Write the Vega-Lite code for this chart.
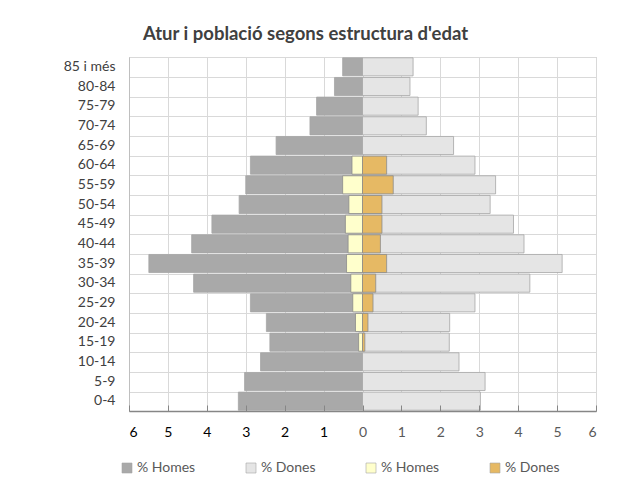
{
  "$schema": "https://vega.github.io/schema/vega-lite/v6.json",
  "width": 467,
  "height": 354,
  "autosize": {"type": "none"},
  "padding": {"left": 129, "top": 57, "right": 28, "bottom": 85},
  "background": "white",
  "config": {
    "font": "Lato",
    "view": {"stroke": "#bfbfbf", "strokeWidth": 1},
    "axis": {"labelFont": "Lato"}
  },
  "title": {
    "text": "Atur i població segons estructura d'edat",
    "fontSize": 18.5,
    "fontWeight": "bold",
    "color": "#404040",
    "anchor": "middle",
    "dx": -57,
    "offset": 14
  },
  "data": {
    "values": [
      {"edat": "85 i més", "tipus": "Població", "sexe": "Homes", "valor": 0.51},
      {"edat": "80-84", "tipus": "Població", "sexe": "Homes", "valor": 0.72},
      {"edat": "75-79", "tipus": "Població", "sexe": "Homes", "valor": 1.18},
      {"edat": "70-74", "tipus": "Població", "sexe": "Homes", "valor": 1.35},
      {"edat": "65-69", "tipus": "Població", "sexe": "Homes", "valor": 2.22},
      {"edat": "60-64", "tipus": "Població", "sexe": "Homes", "valor": 2.88},
      {"edat": "55-59", "tipus": "Població", "sexe": "Homes", "valor": 3.0},
      {"edat": "50-54", "tipus": "Població", "sexe": "Homes", "valor": 3.17},
      {"edat": "45-49", "tipus": "Població", "sexe": "Homes", "valor": 3.87},
      {"edat": "40-44", "tipus": "Població", "sexe": "Homes", "valor": 4.39},
      {"edat": "35-39", "tipus": "Població", "sexe": "Homes", "valor": 5.49},
      {"edat": "30-34", "tipus": "Població", "sexe": "Homes", "valor": 4.34},
      {"edat": "25-29", "tipus": "Població", "sexe": "Homes", "valor": 2.88},
      {"edat": "20-24", "tipus": "Població", "sexe": "Homes", "valor": 2.47},
      {"edat": "15-19", "tipus": "Població", "sexe": "Homes", "valor": 2.38},
      {"edat": "10-14", "tipus": "Població", "sexe": "Homes", "valor": 2.62},
      {"edat": "5-9", "tipus": "Població", "sexe": "Homes", "valor": 3.03},
      {"edat": "0-4", "tipus": "Població", "sexe": "Homes", "valor": 3.19},
      {"edat": "85 i més", "tipus": "Població", "sexe": "Dones", "valor": 1.30},
      {"edat": "80-84", "tipus": "Població", "sexe": "Dones", "valor": 1.22},
      {"edat": "75-79", "tipus": "Població", "sexe": "Dones", "valor": 1.43},
      {"edat": "70-74", "tipus": "Població", "sexe": "Dones", "valor": 1.64},
      {"edat": "65-69", "tipus": "Població", "sexe": "Dones", "valor": 2.34},
      {"edat": "60-64", "tipus": "Població", "sexe": "Dones", "valor": 2.89},
      {"edat": "55-59", "tipus": "Població", "sexe": "Dones", "valor": 3.42},
      {"edat": "50-54", "tipus": "Població", "sexe": "Dones", "valor": 3.28},
      {"edat": "45-49", "tipus": "Població", "sexe": "Dones", "valor": 3.88},
      {"edat": "40-44", "tipus": "Població", "sexe": "Dones", "valor": 4.15},
      {"edat": "35-39", "tipus": "Població", "sexe": "Dones", "valor": 5.13},
      {"edat": "30-34", "tipus": "Població", "sexe": "Dones", "valor": 4.30},
      {"edat": "25-29", "tipus": "Població", "sexe": "Dones", "valor": 2.89},
      {"edat": "20-24", "tipus": "Població", "sexe": "Dones", "valor": 2.24},
      {"edat": "15-19", "tipus": "Població", "sexe": "Dones", "valor": 2.23},
      {"edat": "10-14", "tipus": "Població", "sexe": "Dones", "valor": 2.48},
      {"edat": "5-9", "tipus": "Població", "sexe": "Dones", "valor": 3.15},
      {"edat": "0-4", "tipus": "Població", "sexe": "Dones", "valor": 3.03},
      {"edat": "60-64", "tipus": "Atur", "sexe": "Homes", "valor": 0.27},
      {"edat": "55-59", "tipus": "Atur", "sexe": "Homes", "valor": 0.51},
      {"edat": "50-54", "tipus": "Atur", "sexe": "Homes", "valor": 0.35},
      {"edat": "45-49", "tipus": "Atur", "sexe": "Homes", "valor": 0.44},
      {"edat": "40-44", "tipus": "Atur", "sexe": "Homes", "valor": 0.37},
      {"edat": "35-39", "tipus": "Atur", "sexe": "Homes", "valor": 0.41},
      {"edat": "30-34", "tipus": "Atur", "sexe": "Homes", "valor": 0.30},
      {"edat": "25-29", "tipus": "Atur", "sexe": "Homes", "valor": 0.25},
      {"edat": "20-24", "tipus": "Atur", "sexe": "Homes", "valor": 0.18},
      {"edat": "15-19", "tipus": "Atur", "sexe": "Homes", "valor": 0.10},
      {"edat": "60-64", "tipus": "Atur", "sexe": "Dones", "valor": 0.62},
      {"edat": "55-59", "tipus": "Atur", "sexe": "Dones", "valor": 0.79},
      {"edat": "50-54", "tipus": "Atur", "sexe": "Dones", "valor": 0.50},
      {"edat": "45-49", "tipus": "Atur", "sexe": "Dones", "valor": 0.50},
      {"edat": "40-44", "tipus": "Atur", "sexe": "Dones", "valor": 0.46},
      {"edat": "35-39", "tipus": "Atur", "sexe": "Dones", "valor": 0.62},
      {"edat": "30-34", "tipus": "Atur", "sexe": "Dones", "valor": 0.34},
      {"edat": "25-29", "tipus": "Atur", "sexe": "Dones", "valor": 0.27},
      {"edat": "20-24", "tipus": "Atur", "sexe": "Dones", "valor": 0.14},
      {"edat": "15-19", "tipus": "Atur", "sexe": "Dones", "valor": 0.06}
    ]
  },
  "transform": [
    {"calculate": "datum.sexe == 'Homes' ? -datum.valor : datum.valor", "as": "x"},
    {"calculate": "datum.tipus + ' ' + datum.sexe", "as": "serie"}
  ],
  "encoding": {
    "y": {
      "field": "edat",
      "type": "nominal",
      "sort": ["85 i més", "80-84", "75-79", "70-74", "65-69", "60-64", "55-59", "50-54", "45-49", "40-44", "35-39", "30-34", "25-29", "20-24", "15-19", "10-14", "5-9", "0-4"],
      "scale": {"paddingInner": 0.08, "paddingOuter": 0.04}
    },
    "x": {
      "field": "x",
      "type": "quantitative",
      "stack": null,
      "scale": {"domain": [-6, 6], "nice": false}
    },
    "color": {
      "field": "serie",
      "type": "nominal",
      "scale": {
        "domain": ["Població Homes", "Població Dones", "Atur Homes", "Atur Dones"],
        "range": ["#a9a9a9", "#e5e5e5", "#ffffcc", "#e6b964"]
      },
      "legend": {
        "title": null,
        "orient": "none",
        "direction": "horizontal",
        "legendX": -9,
        "legendY": 404,
        "symbolType": "square",
        "symbolSize": 100,
        "symbolStrokeColor": "#a6a6a6",
        "symbolStrokeWidth": 0.6,
        "labelFontSize": 14,
        "labelColor": "#595959",
        "labelOffset": 3,
        "columnPadding": 48,
        "labelExpr": "indexof(datum.label, 'Homes') >= 0 ? '% Homes' : '% Dones'"
      }
    }
  },
  "layer": [
    {
      "transform": [{"filter": "datum.tipus == 'Població'"}],
      "mark": {"type": "bar", "stroke": "#a6a6a6", "strokeWidth": 0.8},
      "encoding": {
        "y": {
          "field": "edat",
          "type": "nominal",
          "sort": ["85 i més", "80-84", "75-79", "70-74", "65-69", "60-64", "55-59", "50-54", "45-49", "40-44", "35-39", "30-34", "25-29", "20-24", "15-19", "10-14", "5-9", "0-4"],
          "axis": {
            "title": null,
            "orient": "left",
            "grid": false,
            "ticks": false,
            "domainColor": "#bfbfbf",
            "labelFontSize": 14,
            "labelColor": "#404040",
            "labelPadding": 14
          }
        },
        "x": {
          "field": "x",
          "type": "quantitative",
          "stack": null,
          "axis": {
            "title": null,
            "orient": "bottom",
            "values": [-6, -5, -4, -3, -2, -1, 0, 1, 2, 3, 4, 5, 6],
            "grid": true,
            "gridColor": "#d9d9d9",
            "labels": false,
            "ticks": false,
            "domain": false,
            "zindex": 0
          }
        }
      }
    },
    {
      "transform": [{"filter": "datum.tipus == 'Atur'"}],
      "mark": {"type": "bar", "stroke": "#8c8c8c", "strokeWidth": 0.8},
      "encoding": {
        "y": {
          "field": "edat",
          "type": "nominal",
          "sort": ["85 i més", "80-84", "75-79", "70-74", "65-69", "60-64", "55-59", "50-54", "45-49", "40-44", "35-39", "30-34", "25-29", "20-24", "15-19", "10-14", "5-9", "0-4"],
          "axis": {
            "title": null,
            "orient": "left",
            "grid": true,
            "gridColor": "#d9d9d9",
            "bandPosition": 0,
            "labels": false,
            "ticks": false,
            "domain": false
          }
        },
        "x": {
          "field": "x",
          "type": "quantitative",
          "stack": null,
          "axis": {
            "title": null,
            "orient": "bottom",
            "values": [-6, -5, -4, -3, -2, -1, 0, 1, 2, 3, 4, 5, 6],
            "labelExpr": "abs(datum.value)",
            "labelFontSize": 14,
            "labelColor": {"condition": {"test": "datum.value < 0", "value": "#000000"}, "value": "#595959"},
            "labelPadding": 27,
            "labelBaseline": "middle",
            "tickSize": -6,
            "tickColor": "#868686",
            "domainColor": "#868686",
            "domainWidth": 1.5,
            "grid": false,
            "zindex": 1
          }
        }
      }
    }
  ],
  "resolve": {"axis": {"y": "independent", "x": "independent"}}
}
